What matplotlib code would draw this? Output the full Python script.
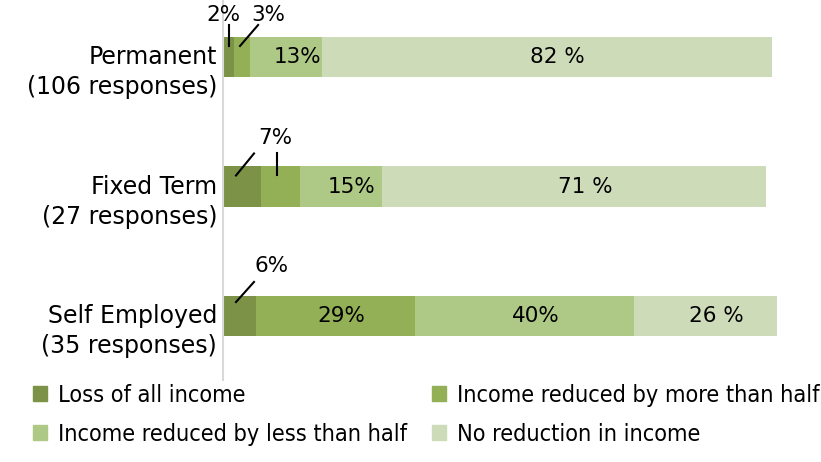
import matplotlib.pyplot as plt
from matplotlib.patches import Patch
from matplotlib.transforms import blended_transform_factory

# data
categories = ['Permanent', 'Fixed Term', 'Self Employed']
responses = [106, 27, 35]
series_names = ['Loss of all income', 'Income reduced by more than half',
                'Income reduced by less than half', 'No reduction in income']
loss_all = [2, 7, 6]
reduced_more = [3, 7, 29]
reduced_less = [13, 15, 40]
no_reduction = [82, 70, 26]
label_text = [['2%', '3%', '13%', '82 %'],
              ['7%', '7%', '15%', '71 %'],
              ['6%', '29%', '40%', '26 %']]

colors = ['#7b9247', '#93b056', '#aec886', '#cedbb8']

fig = plt.figure(figsize=(8.21, 4.62), dpi=100)
ax = fig.add_axes([223 / 821, 1 - 380 / 462, 576 / 821, 380 / 462])

series = [loss_all, reduced_more, reduced_less, no_reduction]
ypos = list(range(len(categories)))
left = [0] * len(categories)
for vals, col, name in zip(series, colors, series_names):
    ax.barh(ypos, vals, left=left, height=0.31, color=col, label=name)
    left = [l + v for l, v in zip(left, vals)]

ax.set_xlim(0, 105)
ax.set_ylim(2.494, -0.44)
ax.set_xticks([])
ax.set_yticks([])
for s in ['top', 'right', 'bottom']:
    ax.spines[s].set_visible(False)
ax.spines['left'].set_color('#d9d9d9')
ax.spines['left'].set_linewidth(1.5)

# category labels (two lines)
trans = blended_transform_factory(fig.transFigure, ax.transData)
for i, (cat, n) in enumerate(zip(categories, responses)):
    ax.text(217 / 821, i, cat, transform=trans, ha='right', va='center',
            fontsize=17)
    ax.text(217 / 821, i + 0.235, f'({n} responses)', transform=trans,
            ha='right', va='center', fontsize=17)

# values inside the bars (small ones are labelled outside below)
outside = {(0, 0), (0, 1), (1, 0), (1, 1), (2, 0)}
for i in ypos:
    start = 0
    for j, vals in enumerate(series):
        v = vals[i]
        if (i, j) not in outside:
            off = 1 if (i == 2 and j == 1) else 2
            ax.text(start + v / 2 + off, i, label_text[i][j], ha='center',
                    va='center', fontsize=15.5)
        start += v

# small segments labelled outside with leader lines
line_kw = dict(color='black', lw=1.5)
# Permanent
ax.text(0.0, -0.324, label_text[0][0], ha='center', va='center', fontsize=15.5)
ax.plot([1.1, 1.1], [-0.247, -0.085], **line_kw)
ax.text(8.2, -0.324, label_text[0][1], ha='center', va='center', fontsize=15.5)
ax.plot([6.4, 3.1], [-0.247, -0.085], **line_kw)
# Fixed Term
ax.text(9.6, 0.622, label_text[1][0], ha='center', va='center', fontsize=15.5)
ax.plot([5.65, 2.37], [0.745, 0.915], **line_kw)
ax.plot([9.8, 9.8], [0.745, 0.915], **line_kw)
# Self Employed
ax.text(8.9, 1.614, label_text[2][0], ha='center', va='center', fontsize=15.5)
ax.plot([5.65, 2.37], [1.737, 1.892], **line_kw)

handles = [Patch(color=c) for c in colors]
order = [0, 2, 1, 3]
fig.legend([handles[k] for k in order], [series_names[k] for k in order],
           loc='upper left', bbox_to_anchor=(33 / 821, 1 - 384 / 462),
           ncol=2, frameon=False, handlelength=0.6, handleheight=0.6,
           handletextpad=0.45, columnspacing=1.1, labelspacing=0.68,
           borderaxespad=0, borderpad=0,
           prop={'size': 16.8, 'stretch': 'condensed'})

fig.savefig('out.png', dpi=100)
